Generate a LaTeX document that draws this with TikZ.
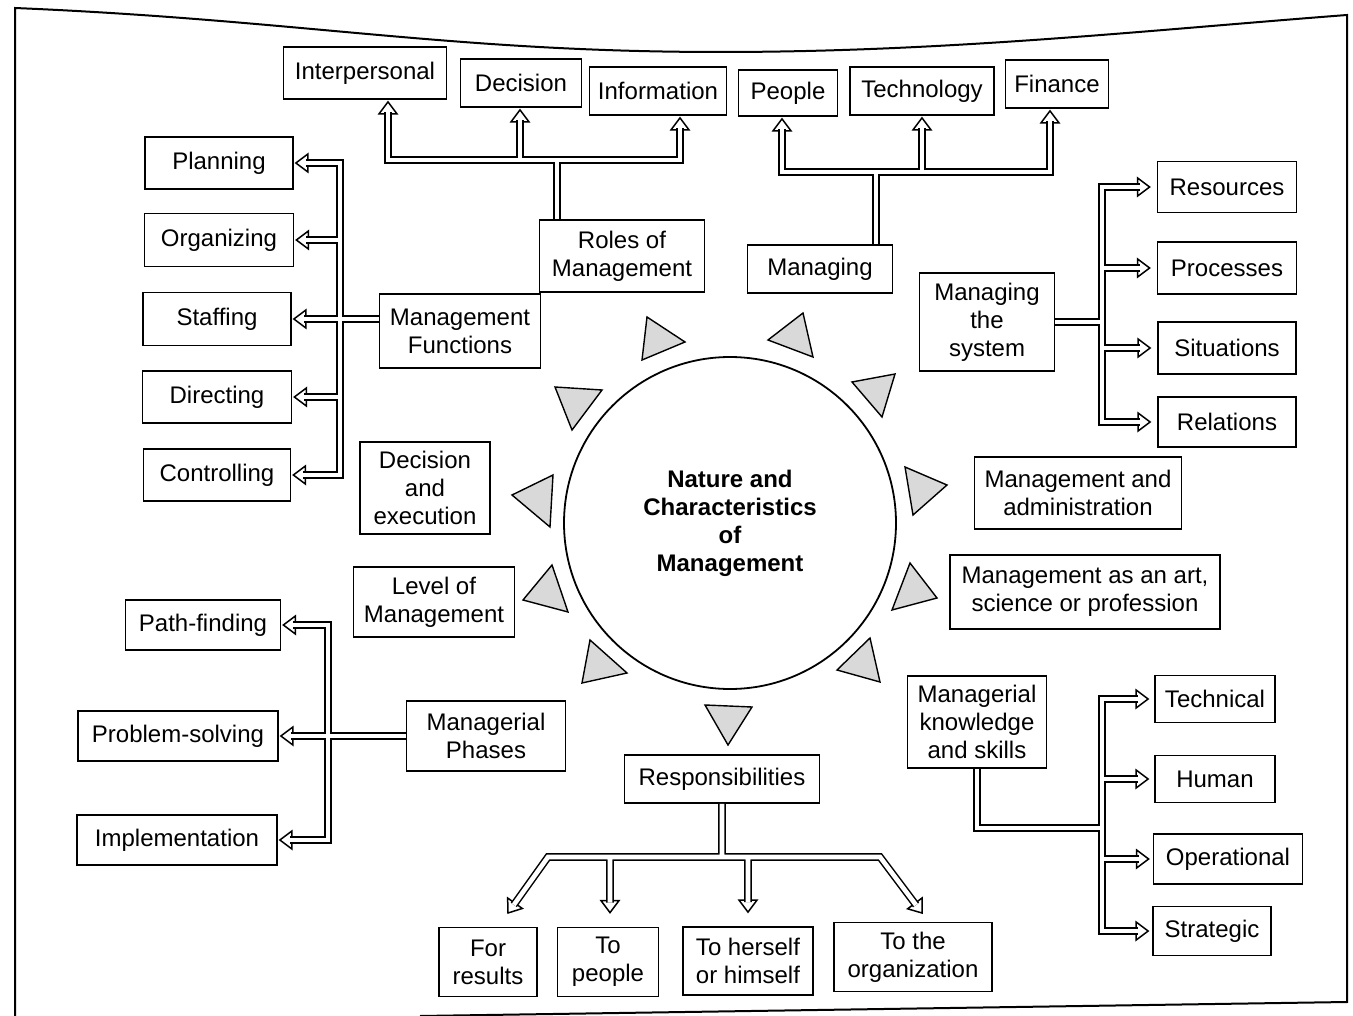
\documentclass[tikz,border=0pt]{standalone}
\usepackage{fontspec}
\setmainfont{Liberation Sans}
\usetikzlibrary{calc}
\begin{document}
\begin{tikzpicture}[x=1pt,y=-1pt,
  box/.style={draw, line width=1.7pt, fill=white, align=center, inner sep=0pt,
              font=\fontsize{24}{28}\selectfont},
  dbl/.style={line width=1.5pt, double=white, double distance=4.6pt, line join=miter},
  tri/.style={draw, line width=1.4pt, fill=black!15, line join=miter},
  hd/.pic={\draw[line width=1.5pt, fill=white, line join=miter]
           (0,0) -- (-12,-9) -- (-12,9) -- cycle;}
]
\useasboundingbox (0,0) rectangle (1353,1016);

% page frame
\draw[line width=2pt] (15,1016) -- (15,8)
  .. controls (300,20) and (450,52) .. (720,52)
  .. controls (950,52) and (1150,30) .. (1347,15)
  -- (1347,1002) -- (420,1016);

% central circle
\node[circle, draw, line width=1.8pt, minimum size=332pt, align=center,
      font=\fontsize{24}{28}\bfseries] (core) at (730,523)
  {Nature and\\Characteristics\\of\\Management};

% pointers around the circle
\draw[tri] (647,317) -- (685,342) -- (642,360) -- cycle;
\draw[tri] (803,313) -- (813,357) -- (768,340) -- cycle;
\draw[tri] (852,382) -- (895,374) -- (882,417) -- cycle;
\draw[tri] (555,387) -- (602,390) -- (572,430) -- cycle;
\draw[tri] (905,467) -- (947,485) -- (913,515) -- cycle;
\draw[tri] (512,495) -- (553,475) -- (550,527) -- cycle;
\draw[tri] (552,565) -- (568,612) -- (523,600) -- cycle;
\draw[tri] (910,563) -- (937,598) -- (892,610) -- cycle;
\draw[tri] (590,640) -- (627,673) -- (582,683) -- cycle;
\draw[tri] (870,638) -- (880,682) -- (837,670) -- cycle;
\draw[tri] (705,705) -- (752,707) -- (728,745) -- cycle;

% top row
\node[box, minimum width=163, minimum height=52] (ip)   at (365,73)  {Interpersonal};
\node[box, minimum width=121, minimum height=48] (dec)  at (521,83)  {Decision};
\node[box, minimum width=137, minimum height=48] (inf)  at (658,91)  {Information};
\node[box, minimum width=99,  minimum height=46] (ppl)  at (788,93)  {People};
\node[box, minimum width=144, minimum height=48] (tech) at (922,91)  {Technology};
\node[box, minimum width=103, minimum height=48] (fin)  at (1057,84) {Finance};

% left column
\node[box, minimum width=148, minimum height=52] (plan)  at (219,163) {Planning};
\node[box, minimum width=149, minimum height=53] (org)   at (219,240) {Organizing};
\node[box, minimum width=148, minimum height=53] (staff) at (217,319) {Staffing};
\node[box, minimum width=149, minimum height=52] (dir)   at (217,397) {Directing};
\node[box, minimum width=147, minimum height=52] (ctrl)  at (217,475) {Controlling};
\node[box, minimum width=161, minimum height=74] (mf)    at (460,331) {Management\\Functions};

% hubs near the top
\node[box, minimum width=165, minimum height=72] (rm)  at (622,256) {Roles of\\Management};
\node[box, minimum width=145, minimum height=48] (mng) at (820,269) {Managing};

% right column
\node[box, minimum width=135, minimum height=98] (mts)  at (987,322)  {Managing\\the\\system};
\node[box, minimum width=139, minimum height=51] (res)  at (1227,187) {Resources};
\node[box, minimum width=139, minimum height=52] (proc) at (1227,268) {Processes};
\node[box, minimum width=138, minimum height=52] (sit)  at (1227,348) {Situations};
\node[box, minimum width=138, minimum height=50] (rel)  at (1227,422) {Relations};

% boxes beside the circle
\node[box, minimum width=130, minimum height=92] (de)   at (425,488)  {Decision\\and\\execution};
\node[box, minimum width=161, minimum height=70] (lom)  at (434,602)  {Level of\\Management};
\node[box, minimum width=207, minimum height=72] (ma)   at (1078,493) {Management and\\administration};
\node[box, minimum width=270, minimum height=74] (mart) at (1085,592) {Management as an art,\\science or profession};

% lower left
\node[box, minimum width=155, minimum height=50] (pf)   at (203,625) {Path-finding};
\node[box, minimum width=200, minimum height=50] (ps)   at (178,736) {Problem-solving};
\node[box, minimum width=200, minimum height=50] (impl) at (177,840) {Implementation};
\node[box, minimum width=159, minimum height=70] (mp)   at (486,736) {Managerial\\Phases};

% lower right
\node[box, minimum width=139, minimum height=92] (mks)   at (977,722)  {Managerial\\knowledge\\and skills};
\node[box, minimum width=120, minimum height=47] (techn) at (1215,699) {Technical};
\node[box, minimum width=120, minimum height=47] (hum)   at (1215,779) {Human};
\node[box, minimum width=149, minimum height=50] (oper)  at (1228,859) {Operational};
\node[box, minimum width=118, minimum height=49] (strat) at (1212,931) {Strategic};

% bottom
\node[box, minimum width=195, minimum height=48] (resp) at (722,779) {Responsibilities};
\node[box, minimum width=98,  minimum height=69] (fr)   at (488,962) {For\\results};
\node[box, minimum width=101, minimum height=69] (tpp)  at (608,962) {To\\people};
\node[box, minimum width=130, minimum height=68] (th)   at (748,961) {To herself\\or himself};
\node[box, minimum width=158, minimum height=69] (tto)  at (913,957) {To the\\organization};

% ---- Roles of Management -> roles
\coordinate (rmb) at (557,160);
\coordinate (t1) at ($(ip.south)+(23,2)$);
\coordinate (t2) at ($(dec.south)+(-1,2)$);
\coordinate (t3) at ($(inf.south)+(22,2)$);
\foreach \p in {t1,t2,t3} \pic[rotate=90] at (\p) {hd};
\draw[dbl] ($(t1)+(0,10)$) -- (t1|-rmb) -- (t3|-rmb) -- ($(t3)+(0,10)$)
           (t2|-rmb) -- ($(t2)+(0,10)$)
           (rmb) -- (rmb|-rm.north);

% ---- Managing -> people, technology, finance
\coordinate (mgb) at (876,172);
\coordinate (t4) at ($(ppl.south)+(-6,2)$);
\coordinate (t5) at ($(tech.south)+(0,2)$);
\coordinate (t6) at ($(fin.south)+(-7,2)$);
\foreach \p in {t4,t5,t6} \pic[rotate=90] at (\p) {hd};
\draw[dbl] ($(t4)+(0,10)$) -- (t4|-mgb) -- (t6|-mgb) -- ($(t6)+(0,10)$)
           (t5|-mgb) -- ($(t5)+(0,10)$)
           (mgb) -- (mgb|-mng.north);

% ---- Management Functions -> functions
\coordinate (mfj) at (340,0);
\coordinate (f1) at ($(plan.east)+(2,0)$);
\coordinate (f2) at ($(org.east)+(2,0)$);
\coordinate (f3) at ($(staff.east)+(2,0)$);
\coordinate (f4) at ($(dir.east)+(2,0)$);
\coordinate (f5) at ($(ctrl.east)+(2,0)$);
\foreach \p in {f1,f2,f3,f4,f5} \pic[rotate=180] at (\p) {hd};
\draw[dbl] ($(f1)+(10,0)$) -- (f1-|mfj) -- (f5-|mfj) -- ($(f5)+(10,0)$)
           (f2-|mfj) -- ($(f2)+(10,0)$)
           (f4-|mfj) -- ($(f4)+(10,0)$)
           (mf.west|-f3) -- ($(f3)+(10,0)$);

% ---- Managing the system -> resources ... relations
\coordinate (msj) at (1102,0);
\coordinate (s1) at ($(res.west)+(-7,0)$);
\coordinate (s2) at ($(proc.west)+(-7,0)$);
\coordinate (s3) at ($(sit.west)+(-7,0)$);
\coordinate (s4) at ($(rel.west)+(-7,0)$);
\foreach \p in {s1,s2,s3,s4} \pic at (\p) {hd};
\draw[dbl] ($(s1)+(-10,0)$) -- (s1-|msj) -- (s4-|msj) -- ($(s4)+(-10,0)$)
           (s2-|msj) -- ($(s2)+(-10,0)$)
           (s3-|msj) -- ($(s3)+(-10,0)$)
           (mts.east) -- (mts.east-|msj);

% ---- Managerial Phases -> phases
\coordinate (mpj) at (328,0);
\coordinate (p1) at ($(pf.east)+(2,0)$);
\coordinate (p2) at ($(ps.east)+(2,0)$);
\coordinate (p3) at ($(impl.east)+(2,0)$);
\foreach \p in {p1,p2,p3} \pic[rotate=180] at (\p) {hd};
\draw[dbl] ($(p1)+(10,0)$) -- (p1-|mpj) -- (p3-|mpj) -- ($(p3)+(10,0)$)
           (mp.west) -- ($(p2)+(10,0)$);

% ---- Managerial knowledge and skills -> skills
\coordinate (mkb) at (1102,828);
\coordinate (k1) at ($(techn.west)+(-6,0)$);
\coordinate (k2) at ($(hum.west)+(-6,0)$);
\coordinate (k3) at ($(oper.west)+(-4,0)$);
\coordinate (k4) at ($(strat.west)+(-4,0)$);
\foreach \p in {k1,k2,k3,k4} \pic at (\p) {hd};
\draw[dbl] ($(k1)+(-10,0)$) -- (k1-|mkb) -- (k4-|mkb) -- ($(k4)+(-10,0)$)
           (k2-|mkb) -- ($(k2)+(-10,0)$)
           (k3-|mkb) -- ($(k3)+(-10,0)$)
           (mks.south) -- (mks.south|-mkb) -- (mkb);

% ---- Responsibilities -> four directions
\coordinate (rl) at (548,857);
\coordinate (rr) at (880,857);
\coordinate (r1) at (508,913);
\coordinate (r2) at ($(tpp.north)+(2,-14)$);
\coordinate (r3) at ($(th.north)+(0,-14)$);
\coordinate (r4) at (922,913);
\pic[rotate=-125.5] at (r1) {hd};
\pic[rotate=-90] at (r2) {hd};
\pic[rotate=-90] at (r3) {hd};
\pic[rotate=-53.1] at (r4) {hd};
\draw[dbl] ($(r1)!10pt!(rl)$) -- (rl) -- (rr) -- ($(r4)!10pt!(rr)$)
           (r2|-rl) -- ($(r2)+(0,-10)$)
           (r3|-rl) -- ($(r3)+(0,-10)$)
           (resp.south) -- (resp.south|-rl);
\end{tikzpicture}
\end{document}
